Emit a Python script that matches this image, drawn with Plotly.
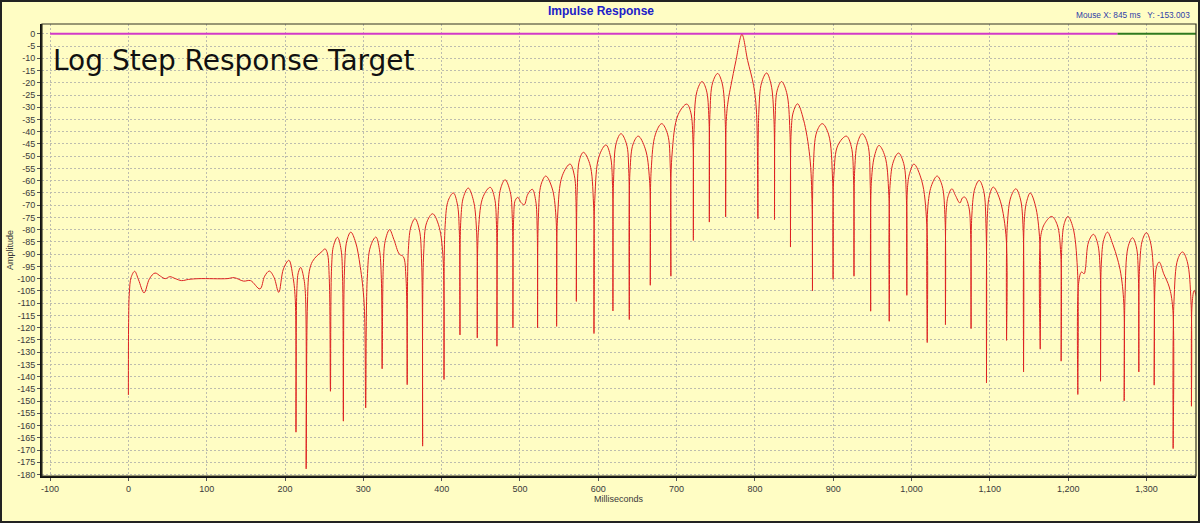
import plotly.graph_objects as go

# impulse response trace (ms, dB)
ir_ms = [
    0, 0.3, 1.2, 3.5, 8, 13, 20, 27, 34, 41, 47, 53, 60, 68, 77, 90, 126, 135, 147, 156,
    168, 174, 180, 186, 192, 198, 205, 210, 213, 214, 215.2, 217, 220, 223.5, 226, 227, 228.5, 231,
    235, 241, 247, 251, 254, 256.5, 258, 259.5, 262, 267, 271.5, 273.5, 274.5, 276, 279, 284,
    290, 296, 301, 303, 305, 309, 316, 320.5, 323, 324, 325.5, 328, 333.5, 339, 346, 351, 354.5,
    356, 357.5, 361, 366, 371.5, 374.5, 375.7, 377, 381, 388.5, 396, 401.5, 403, 404.5, 408.5,
    415, 420, 422.5, 423.4, 424.5, 428, 434, 440.5, 444.5, 445.5, 447, 453, 462, 467.5, 470,
    470.6, 472, 475.5, 481, 487.5, 490.2, 491, 492, 494, 497.4, 501.5, 505.5, 510, 515.7, 520,
    522, 522.5, 523.5, 527, 533, 541, 546, 546.8, 548, 554, 564, 569.5, 571.5, 572, 573, 576,
    581, 589, 594, 594.5, 595.5, 601, 609.8, 615.5, 618.2, 618.7, 619.5, 623, 629, 636, 639,
    639.6, 640.5, 644.5, 651, 660, 665.5, 666.4, 667.5, 673, 681, 688.5, 692, 692.7, 694, 702,
    713, 718, 721, 721.4, 722, 726, 732.5, 738, 741.3, 741.8, 742.5, 746, 752.4, 758, 762,
    762.6, 763.5, 766, 769.4, 775.8, 783.4, 790.7, 798.3, 802, 803.8, 805, 808.5, 814.9, 820.5,
    824.3, 825, 825.8, 828.5, 834, 840.5, 844.7, 845.4, 846.3, 849, 854.4, 862, 870, 873,
    873.5, 874.5, 879, 886, 894, 899.2, 899.8, 900.8, 906, 916.8, 923, 926, 926.5, 927.5, 931,
    937, 944, 947.3, 947.8, 948.8, 953, 958.4, 966, 971, 971.5, 972.5, 977, 983.4, 990, 993.5,
    994, 995, 998, 1003, 1013, 1019.5, 1020, 1021, 1026, 1032.7, 1039, 1042.8, 1043.3, 1044.3,
    1047, 1051.5, 1056, 1061.7, 1065, 1068, 1073, 1075.5, 1076, 1077, 1081, 1086.4, 1092,
    1095.2, 1095.7, 1096.7, 1099.5, 1104.3, 1112, 1120.5, 1121.3, 1122.3, 1127, 1133.2, 1139,
    1142.5, 1143, 1144, 1147, 1151.5, 1158, 1163.8, 1164.3, 1165.3, 1171, 1179, 1186, 1190.5,
    1191, 1192, 1195, 1199.6, 1206, 1211.8, 1212.3, 1213.3, 1217, 1220.4, 1222, 1226, 1232.3,
    1237.5, 1240.8, 1241.3, 1242.3, 1245.5, 1250.2, 1257, 1263, 1267.2, 1271, 1271.5, 1272.5,
    1276.5, 1282.1, 1287, 1289.7, 1290.2, 1291.2, 1295, 1300, 1305, 1309.3, 1309.8, 1310.8,
    1313, 1316.2, 1322, 1329, 1333.5, 1334, 1335, 1340, 1346, 1352, 1356.9, 1357.4, 1358.3,
    1360.9, 1364,
]
ir_db = [
    -147.5, -118, -106, -99.5, -97, -100.5, -105.8, -100, -97.7, -99, -100, -99.2, -100, -100.8, -100.3, -100, -100, -99.6, -101, -100.8,
    -104.2, -99, -96.9, -99.5, -105.6, -96, -92.5, -99, -108, -162.7, -104, -97.5, -95.4, -99, -106, -177.7, -112, -97,
    -93, -90.6, -89, -87.8, -89.5, -100, -146, -95, -86.5, -83.1, -88, -100, -158.2, -96, -84.5, -81,
    -85, -95, -110, -152.8, -100, -87, -83, -88, -100, -136.8, -95, -84.5, -80, -84, -90, -91, -100,
    -143.3, -88, -78.5, -75.5, -80, -94, -168.4, -90, -77, -73.5, -78, -90, -141.2, -78, -68,
    -65, -69.5, -80, -123, -76, -66.5, -63, -68, -80, -124.2, -80, -66.5, -62.7, -67, -78,
    -127.6, -74, -63, -59.6, -64.5, -75, -120.1, -75, -68, -66.8, -69, -69.8, -65.5, -63.5, -68,
    -80, -120.1, -75, -61.5, -58.1, -63, -75, -119.5, -75, -58, -53.2, -58, -68, -109.3, -65, -51.5,
    -48.4, -53, -70, -122.4, -68, -50, -45.4, -50, -62, -113.2, -60, -44.5, -40.8, -45, -57,
    -116.7, -56, -45, -41.8, -47, -60, -102.7, -56, -41, -36.7, -41, -55, -99, -50, -33,
    -28.7, -32, -45, -84.4, -42, -23.5, -19.5, -23, -35, -76.9, -33, -20, -16.2, -20, -35,
    -74.8, -35, -27, -21.1, -10.9, -0.3, -10.9, -21.1, -32, -75.5, -32, -20, -16, -20.5,
    -35, -75.9, -35, -23, -19.5, -24, -40, -87.1, -40, -32, -28.6, -35, -50, -70,
    -105, -55, -40, -36.7, -41, -60, -100.3, -58, -45.5, -41.8, -46, -60, -99, -55, -44.5,
    -40.8, -45, -62, -113.3, -60, -49.5, -45.6, -50, -66, -117.4, -62, -52, -48.7, -53, -68,
    -106.8, -62, -56.5, -53.2, -60, -78, -126.1, -70, -61.5, -58.1, -62, -76, -118.8, -72,
    -66, -63.3, -66, -69.1, -67, -66.7, -70.5, -82, -120.4, -74, -63, -59.9, -64,
    -80, -142.6, -75, -66, -62.6, -67, -82, -125.2, -78, -66.5, -63.3, -67.5,
    -80, -138.1, -76, -68.5, -65, -70, -85, -128.8, -82, -77, -74.6, -78, -90,
    -133.7, -86, -77.5, -74.6, -79, -96, -147.3, -102, -97.3, -98, -96, -85, -81.9,
    -85.5, -96, -141.9, -94, -84, -81, -86, -92, -98, -110, -149.9, -108,
    -87, -83.3, -87, -100, -138.1, -95, -84, -81.2, -85, -100, -143.5, -103,
    -95, -93.2, -98, -103.4, -112, -169.4, -110, -92, -89.1, -93, -110, -152.1, -110,
    -104.8, -107.5,
]

# reference line at 0 dB (pink part, then green part)
pink_ms = [-100, 1263]
pink_db = [0, 0]
green_ms = [1263, 1364]
green_db = [0, 0]

x_ticks = [-100, 0, 100, 200, 300, 400, 500, 600, 700, 800, 900, 1000, 1100, 1200, 1300]
x_labels = ["-100", "0", "100", "200", "300", "400", "500", "600", "700", "800", "900",
            "1,000", "1,100", "1,200", "1,300"]
y_ticks = list(range(0, -181, -5))
y_labels = [str(v) for v in y_ticks]

bg = "#FFFDC4"
W, H = 1200, 523
L, R, T, B = 42, 4, 24, 47
pw, ph = W - L - R, H - T - B


def px(x):
    # figure pixel -> paper x
    return (x - L) / pw


def py(y):
    # figure pixel (from top) -> paper y
    return 1 - (y - T) / ph


fig = go.Figure()
fig.add_trace(go.Scatter(x=pink_ms, y=pink_db, mode="lines",
                         line=dict(color="#D23AC8", width=2), showlegend=False))
fig.add_trace(go.Scatter(x=green_ms, y=green_db, mode="lines",
                         line=dict(color="#2F7A1F", width=2), showlegend=False))
fig.add_trace(go.Scatter(x=ir_ms, y=ir_db, mode="lines",
                         line=dict(color="#DD2222", width=1, shape="spline", smoothing=1),
                         showlegend=False))

fig.update_layout(
    width=W, height=H,
    margin=dict(l=L, r=R, t=T, b=B),
    paper_bgcolor=bg, plot_bgcolor=bg,
    font=dict(family="Liberation Sans, Arial", size=9, color="#3A3A3A"),
    xaxis=dict(range=[-110.3, 1363.2], tickvals=x_ticks, ticktext=x_labels,
               showgrid=True, gridcolor="#BDBDAE", griddash="2px,2px", gridwidth=1,
               zeroline=False, showline=True, linecolor="#111111", linewidth=2,
               ticks="outside", ticklen=3, tickcolor="#555555", automargin=False),
    yaxis=dict(range=[-180.6, 4.0], tickvals=y_ticks, ticktext=y_labels,
               showgrid=True, gridcolor="#BDBDAE", griddash="2px,2px", gridwidth=1,
               zeroline=False, showline=True, linecolor="#111111", linewidth=2,
               ticks="outside", ticklen=3, tickcolor="#555555", automargin=False),
)

# thin top/right frame of the plot area and the outer picture border
fig.add_shape(type="rect", xref="paper", yref="paper", x0=0, x1=1, y0=0, y1=1,
              line=dict(color="#333322", width=1.2), layer="above")
fig.add_shape(type="rect", xref="paper", yref="paper",
              x0=px(1), x1=px(W - 1), y0=py(H - 1), y1=py(1),
              line=dict(color="#222222", width=2), layer="above")

fig.add_annotation(text="<b>Impulse Response</b>", xref="paper", yref="paper",
                   x=px(601), y=py(10.7), xanchor="center", yanchor="middle",
                   showarrow=False,
                   font=dict(family="Liberation Sans, Arial", size=12, color="#2020C8"))
fig.add_annotation(text="Mouse X: 845 ms   Y: -153.003", xref="paper", yref="paper",
                   x=px(1192), y=py(15.5), xanchor="right", yanchor="middle",
                   showarrow=False,
                   font=dict(family="Liberation Sans, Arial", size=8.3, color="#3040A8"))
fig.add_annotation(text="Milliseconds", xref="paper", yref="paper",
                   x=0.5, y=py(499), xanchor="center", yanchor="middle", showarrow=False,
                   font=dict(family="Liberation Sans, Arial", size=9, color="#3A3A3A"))
fig.add_annotation(text="Amplitude", xref="paper", yref="paper", textangle=-90,
                   x=px(10), y=0.5, xanchor="center", yanchor="middle", showarrow=False,
                   font=dict(family="Liberation Sans, Arial", size=9, color="#3A3A3A"))
fig.add_annotation(text="Log Step Response Target", xref="paper", yref="paper",
                   x=px(51), y=py(60), xanchor="left", yanchor="middle",
                   showarrow=False,
                   font=dict(family="DejaVu Sans", size=28, color="#111111"))

# the page body has an 8px default margin; drop it so the figure sits at the corner
fig.write_html("out.html", config={"displayModeBar": False},
               post_script="document.body.style.margin='0';document.body.style.padding='0';")
